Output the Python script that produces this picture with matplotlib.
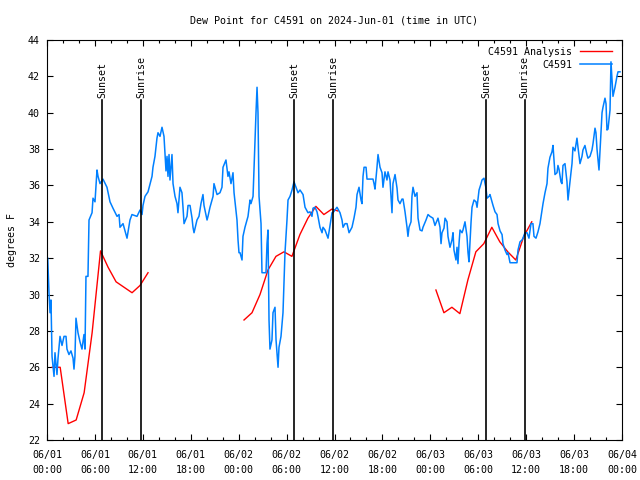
# Dew point chart for station C4591, 2024-06-01 .. 2024-06-04 (UTC)

import matplotlib
matplotlib.use('Agg')
import matplotlib.pyplot as plt
from matplotlib.ticker import MultipleLocator

plt.rcParams['font.family'] = ['DejaVu Sans Mono']
plt.rcParams['font.size'] = 7.2

# hours since 2024-06-01 00:00 UTC and dew point (F), station obs
obs_hours = [0.09, 0.25, 0.38, 0.5, 0.63, 0.88, 1.0, 1.25, 1.38, 1.63, 1.88, 2.13, 2.38, 2.5, 2.75,
             3.0, 3.26, 3.38, 3.5, 3.63, 3.88, 4.13, 4.38, 4.63, 4.76, 4.88, 5.13, 5.26, 5.64, 5.76,
             6.01, 6.26, 6.39, 6.64, 7.01, 7.51, 7.89, 8.26, 8.77, 9.02, 9.14, 9.52, 10.02, 10.39,
             10.64, 11.27, 11.65, 11.9, 12.02, 12.27, 12.65, 13.15, 13.27, 13.52, 13.77, 13.9,
             14.15, 14.4, 14.65, 14.9, 15.03, 15.15, 15.28, 15.4, 15.65, 15.78, 16.03, 16.28,
             16.4, 16.65, 16.9, 17.03, 17.16, 17.53, 17.66, 17.91, 18.16, 18.28, 18.41, 18.78,
             19.03, 19.28, 19.53, 19.66, 20.04, 20.16, 20.41, 20.79, 20.91, 21.29, 21.66, 21.91,
             22.04, 22.41, 22.66, 22.79, 23.04, 23.29, 23.42, 23.79, 23.92, 24.04, 24.17, 24.42,
             24.54, 24.79, 25.17, 25.42, 25.54, 25.8, 26.17, 26.3, 26.42, 26.55, 26.8, 26.92,
             27.42, 27.55, 27.67, 27.74, 27.8, 27.92, 28.17, 28.3, 28.55, 28.68, 28.93, 29.05,
             29.3, 29.55, 29.8, 30.05, 30.18, 30.43, 30.68, 30.93, 31.18, 31.43, 31.68, 32.06,
             32.31, 32.68, 32.93, 33.18, 33.31, 33.56, 33.81, 33.93, 34.18, 34.44, 34.56, 34.81,
             35.19, 35.44, 35.69, 35.81, 36.06, 36.31, 36.69, 36.94, 37.07, 37.32, 37.57, 37.82,
             38.19, 38.44, 38.69, 38.82, 39.07, 39.32, 39.44, 39.57, 39.7, 39.95, 40.07, 40.45,
             40.82, 40.95, 41.07, 41.32, 41.45, 41.7, 41.95, 42.07, 42.32, 42.57, 42.7, 42.95,
             43.07, 43.2, 43.32, 43.58, 43.83, 43.95, 44.2, 44.45, 44.58, 44.83, 45.08, 45.2,
             45.33, 45.58, 45.7, 45.83, 46.08, 46.33, 46.46, 46.71, 46.96, 47.08, 47.46, 47.71,
             47.96, 48.33, 48.58, 48.96, 49.21, 49.34, 49.46, 49.71, 49.84, 50.09, 50.21, 50.46,
             50.71, 50.84, 50.96, 51.21, 51.34, 51.46, 51.59, 51.72, 51.97, 52.09, 52.34, 52.59,
             52.72, 52.84, 53.1, 53.22, 53.47, 53.72, 53.85, 54.1, 54.35, 54.47, 54.72, 54.97,
             55.1, 55.35, 55.47, 55.72, 55.85, 56.1, 56.35, 56.48, 56.73, 56.98, 57.1, 57.35,
             57.6, 57.73, 57.98, 58.85, 58.98, 59.23, 59.48, 59.6, 59.85, 60.1, 60.35, 60.6,
             60.85, 60.98, 61.23, 61.48, 61.73, 61.98, 62.11, 62.36, 62.61, 62.73, 62.98, 63.23,
             63.36, 63.48, 63.61, 63.86, 63.98, 64.11, 64.36, 64.48, 64.61, 64.86, 65.11, 65.24,
             65.36, 65.61, 65.74, 65.86, 66.11, 66.36, 66.49, 66.74, 66.99, 67.11, 67.36, 67.61,
             67.74, 67.99, 68.24, 68.37, 68.62, 68.74, 68.87, 69.12, 69.37, 69.5, 69.62, 69.87,
             70.0, 70.12, 70.25, 70.5, 70.62, 70.75, 70.87, 71.12, 71.37, 71.5, 71.75]
obs_dewpt = [32.0, 30.1, 29.0, 29.7, 26.6, 25.5, 26.8, 25.6, 26.5, 27.7, 27.2, 27.7, 27.7, 27.0, 26.7,
             26.9, 26.5, 25.9, 26.6, 28.7, 27.9, 27.4, 27.0, 27.8, 27.0, 31.0, 31.0, 34.1, 34.5, 35.3,
             35.1, 36.85, 36.5, 36.1, 36.35, 35.9, 35.1, 34.75, 34.3, 34.4, 33.7, 33.9, 33.1, 34.1,
             34.4, 34.3, 34.65, 34.4, 34.9, 35.4, 35.65, 36.5, 37.0, 37.6, 38.6, 38.9,
             38.7, 39.2, 38.7, 36.8, 37.6, 36.5, 37.7, 36.3, 37.7, 36.1, 35.4, 35.0,
             34.5, 35.9, 35.6, 34.8, 33.9, 34.3, 34.9, 34.9, 34.2, 33.7, 33.4, 34.1,
             34.3, 35.0, 35.5, 34.9, 34.1, 34.3, 34.8, 35.4, 36.1, 35.5, 35.6, 35.9,
             37.0, 37.4, 36.5, 36.75, 36.1, 36.7, 35.6, 34.1, 33.0, 32.3, 32.3, 31.9,
             33.2, 33.7, 34.3, 35.2, 35.0, 35.4, 40.0, 41.4, 40.0, 35.4, 33.9, 31.2,
             31.2, 32.8, 33.55, 31.0, 28.6, 27.0, 27.5, 29.0, 29.3, 27.5, 26.0, 27.1,
             27.7, 29.0, 32.3, 34.1, 35.2, 35.4, 35.75, 36.2, 35.9, 35.6, 35.75, 35.5,
             34.8, 34.5, 34.55, 34.3, 34.75, 34.8, 34.55, 34.3, 33.7, 33.4, 33.7, 33.55,
             33.1, 33.8, 34.5, 34.5, 34.65, 34.8, 34.5, 34.1, 33.7, 33.9, 33.9, 33.4,
             33.7, 34.2, 34.8, 35.5, 35.9, 35.2, 35.0, 36.5, 37.0, 37.0, 36.35, 36.35,
             36.35, 36.1, 35.8, 37.0, 37.7, 37.0, 36.7, 35.9, 36.75, 36.3, 36.75, 36.3,
             35.4, 34.5, 36.1, 36.6, 35.85, 35.2, 35.0, 35.25, 35.25, 34.55, 33.7, 33.2,
             33.7, 34.0, 35.4, 35.9, 35.4, 35.6, 34.2, 33.55, 33.5, 33.7, 34.1, 34.4,
             34.3, 34.2, 33.8, 34.2, 33.7, 32.8, 33.4, 33.65, 34.2, 34.0, 33.2, 32.6,
             33.0, 33.4, 32.45, 31.9, 32.6, 31.7, 32.8, 33.55, 33.4, 33.55, 34.0, 33.2,
             32.3, 31.8, 34.0, 34.8, 35.2, 35.1, 34.8, 35.75, 36.1, 36.3, 36.4, 35.85,
             35.3, 35.4, 35.5, 35.1, 34.9, 34.55, 34.4, 33.9, 33.5, 33.3, 32.8, 32.45,
             32.2, 32.3, 31.75, 31.75, 32.45, 32.9, 33.0, 33.1, 33.4, 33.4, 33.1, 33.9,
             33.9, 33.2, 33.1, 33.45, 33.9, 34.65, 35.0, 35.6, 36.1, 36.95, 37.55, 37.85,
             38.2, 37.4, 36.6, 36.7, 37.1, 36.9, 36.2, 36.1, 37.1, 37.2, 36.2, 35.2,
             35.7, 36.7, 37.2, 38.1, 37.9, 38.6, 38.1, 37.2, 37.6, 37.95, 38.2, 37.7,
             37.5, 37.6, 37.95, 38.3, 39.15, 38.9, 38.0, 36.85, 38.9, 40.0, 40.3, 40.8,
             40.5, 39.05, 39.1, 40.15, 42.8, 41.8, 40.9, 41.4, 42.0, 42.25, 42.25]

# hourly analysis, three separate runs (NaN breaks the line)
nan = float('nan')
ana_hours = [0.65, 1.65, 2.65, 3.65, 4.65, 5.65, 6.7, 7.65, 8.65, 9.65, 10.65, 11.65, 12.65, nan,
             24.67, 25.67, 26.67, 27.67, 28.67, 29.67, 30.67, 31.67, 32.67, 33.67, 34.67, 35.67, 36.4, nan,
             48.7, 49.7, 50.7, 51.7, 52.7, 53.7, 54.7, 55.7, 56.7, 57.7, 58.7, 59.7, 60.7]
ana_dewpt = [26.0, 26.0, 22.9, 23.1, 24.6, 27.9, 32.4, 31.5, 30.7, 30.4, 30.1, 30.5, 31.2, nan,
             28.6, 29.0, 30.0, 31.35, 32.1, 32.35, 32.1, 33.3, 34.2, 34.85, 34.4, 34.7, 34.6, nan,
             30.25, 29.0, 29.3, 28.95, 30.8, 32.35, 32.8, 33.7, 32.9, 32.35, 31.9, 33.2, 34.0]

sunset_hours = [6.93, 30.95, 54.97]
sunrise_hours = [11.8, 35.8, 59.8]

tick_hours = list(range(0, 73, 6))
tick_labels = ['06/01\n00:00', '06/01\n06:00', '06/01\n12:00', '06/01\n18:00',
               '06/02\n00:00', '06/02\n06:00', '06/02\n12:00', '06/02\n18:00',
               '06/03\n00:00', '06/03\n06:00', '06/03\n12:00', '06/03\n18:00',
               '06/04\n00:00']

fig = plt.figure(figsize=(6.4, 4.8), dpi=100)
ax = fig.add_axes([47 / 640, 40 / 480, 575 / 640, 400 / 480])

ax.plot(ana_hours, ana_dewpt, color='#ff0000', lw=1.0, label='C4591 Analysis')
ax.plot(obs_hours, obs_dewpt, color='#0080ff', lw=1.1, label='C4591')

for h in sunset_hours:
    ax.plot([h, h], [22, 40.7], color='black', lw=1.2)
    ax.text(h, 40.8, 'Sunset', rotation=90, ha='center', va='bottom')
for h in sunrise_hours:
    ax.plot([h, h], [22, 40.7], color='black', lw=1.2)
    ax.text(h, 40.8, 'Sunrise', rotation=90, ha='center', va='bottom')

ax.set_xlim(0, 72)
ax.set_ylim(22, 44)
ax.set_xticks(tick_hours)
ax.set_xticklabels(tick_labels, linespacing=1.6)
ax.xaxis.set_minor_locator(MultipleLocator(2))
ax.yaxis.set_major_locator(MultipleLocator(2))
ax.tick_params(axis='both', which='major', direction='in', length=4.5, width=0.8,
               top=True, right=True, pad=5)
ax.tick_params(axis='x', which='minor', direction='in', length=2.2, width=0.8, top=True)
ax.tick_params(axis='x', which='major', pad=7)
for s in ax.spines.values():
    s.set_linewidth(0.8)

ax.set_ylabel('degrees F', fontsize=7.2, labelpad=8)
ax.set_title('Dew Point for C4591 on 2024-Jun-01 (time in UTC)', fontsize=7.2, pad=12)

ax.legend(loc='upper right', bbox_to_anchor=(0.993, 0.998), frameon=False, markerfirst=False,
          handlelength=3.2, handletextpad=0.8, labelspacing=0.3, borderaxespad=0.2)

fig.savefig('out.png', dpi=100)
